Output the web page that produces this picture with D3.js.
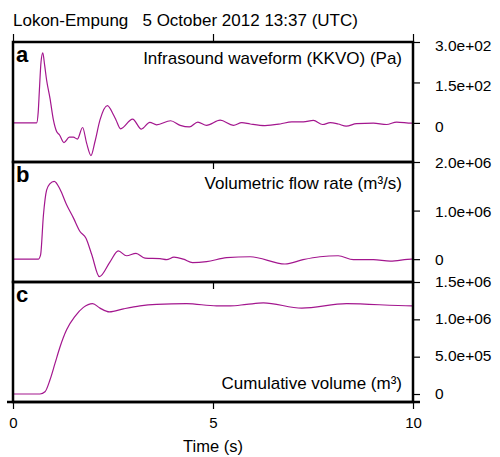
<!DOCTYPE html>
<html>
<head>
<meta charset="utf-8">
<script src="https://cdn.jsdelivr.net/npm/d3@7"></script>
<style>
  body { margin: 0; background: #fff; }
  svg text { font-family: "Liberation Sans", Arial, Helvetica, sans-serif; fill: #000; }
</style>
</head>
<body>
<div id="main"></div>
<script>
// time axis ticks (s)
const timeTicks = [0, 5, 10];

// a: infrasound waveform (Pa)
const tA = [0, 0.59, 0.63, 0.66, 0.70, 0.745, 0.79, 0.84, 0.925, 1.01, 1.09, 1.16, 1.275, 1.41, 1.51, 1.61, 1.74, 1.84, 1.95, 2.05, 2.175, 2.36, 2.51, 2.575, 2.69, 2.99, 3.21, 3.42, 3.59, 3.94, 4.18, 4.41, 4.62, 4.84, 5.18, 5.51, 5.72, 5.93, 6.3, 6.68, 6.97, 7.26, 7.51, 7.74, 7.93, 8.13, 8.33, 8.59, 9.01, 9.34, 9.59, 9.97, 10];
const vA = [0, 0, 40, 122, 225, 260, 215, 159, 91, 11, -32, -44, -73, -53, -53, -60, -17, -75, -121, -69, 11, 64, 30, 11, -22, 14, -23, 2, -7, 8, -9, -15, 3, -9, 10, -9, 1, -4, -10, -4, 4, 4, 9, -6, 1, -4, -12, -3, -1, -6, 3, -1, -1];
const ticksA = [0, 150, 300];

// b: volumetric flow rate (m3/s)
const tB = [0, 0.63, 0.69, 0.76, 0.84, 0.92, 1.03, 1.175, 1.34, 1.51, 1.675, 1.825, 1.97, 2.16, 2.43, 2.63, 2.84, 3.075, 3.3, 3.675, 3.84, 4.025, 4.26, 4.49, 4.84, 5.34, 5.93, 6.8, 7.25, 7.675, 8.13, 8.51, 9.01, 9.43, 9.97, 10];
const vB = [0, 0, 0.09e6, 0.9e6, 1.42e6, 1.55e6, 1.6e6, 1.44e6, 1.12e6, 0.85e6, 0.57e6, 0.43e6, 0.09e6, -0.36e6, -0.05e6, 0.17e6, 0.07e6, 0.12e6, 0.02e6, 0.01e6, -0.01e6, 0.04e6, 0, -0.07e6, -0.05e6, 0.03e6, 0.05e6, -0.1e6, -0.01e6, 0.05e6, 0.07e6, -0.01e6, -0.01e6, -0.04e6, 0, 0];
const ticksB = [0, 1.0e6, 2.0e6];

// c: cumulative volume (m3)
const tC = [0, 0.675, 0.8, 0.925, 1.05, 1.175, 1.34, 1.55, 1.76, 1.99, 2.175, 2.41, 2.76, 3.175, 3.59, 4.34, 5.09, 5.43, 5.84, 6.26, 7.22, 8.34, 9.97, 10];
const vC = [0, 0, 0.03e6, 0.19e6, 0.41e6, 0.63e6, 0.86e6, 1.04e6, 1.16e6, 1.21e6, 1.15e6, 1.10e6, 1.14e6, 1.18e6, 1.20e6, 1.21e6, 1.18e6, 1.18e6, 1.20e6, 1.22e6, 1.15e6, 1.21e6, 1.18e6, 1.18e6];
const ticksC = [0, 0.5e6, 1.0e6, 1.5e6];

const panels = [
  { letter: "a", title: "Infrasound waveform (KKVO) (Pa)", t: tA, v: vA, ticks: ticksA, domain: [-145, 300], top: 42, titleY: 22, labDy: 8.5 },
  { letter: "b", title: "Volumetric flow rate (m³/s)", t: tB, v: vB, ticks: ticksB, domain: [-0.47e6, 2.0e6], top: 162, titleY: 27, labDy: 5.5 },
  { letter: "c", title: "Cumulative volume (m³)", t: tC, v: vC, ticks: ticksC, domain: [-0.107e6, 1.5e6], top: 282, titleY: 107, labDy: 4 }
];

const left = 13, right = 413, ph = 120;
const lineColor = "#a3168e";

const svg = d3.select("#main")
  .append("svg")
  .attr("width", 500)
  .attr("height", 457);

const x = d3.scaleLinear().domain([0, 10]).range([left, right]);

const fmt = (v) => v === 0 ? "0" : d3.format(".1e")(v).replace(/e([+-])(\d)$/, "e$10$2");

svg.append("text")
  .attr("x", 13)
  .attr("y", 26)
  .style("font-size", "17px")
  .attr("xml:space", "preserve")
  .text("Lokon-Empung   5 October 2012 13:37 (UTC)");

panels.forEach((p, i) => {
  const y = d3.scaleLinear().domain(p.domain).range([p.top + ph, p.top]);
  const g = svg.append("g");

  g.append("clipPath").attr("id", "clip" + i)
    .append("rect").attr("x", left).attr("y", p.top).attr("width", right - left).attr("height", ph);

  const line = d3.line()
    .x((d) => x(d[0]))
    .y((d) => y(d[1]))
    .curve(d3.curveMonotoneX);

  g.append("path")
    .datum(p.t.map((t, j) => [t, p.v[j]]))
    .attr("clip-path", "url(#clip" + i + ")")
    .attr("fill", "none")
    .attr("stroke", lineColor)
    .attr("stroke-width", 1.2)
    .attr("d", line);

  // right axis
  const ra = g.append("g")
    .attr("transform", "translate(" + right + ",0)")
    .call(d3.axisRight(y).tickValues(p.ticks).tickSize(7).tickPadding(15).tickFormat(fmt));
  ra.select(".domain").remove();
  ra.selectAll("line").attr("stroke-width", 1.2);
  ra.selectAll("text")
    .attr("dy", null)
    .attr("y", p.labDy)
    .style("font-size", "15.5px");

  // bottom ticks
  const ba = g.append("g")
    .attr("transform", "translate(0," + (p.top + ph) + ")")
    .call(d3.axisBottom(x).tickValues(timeTicks).tickSize(7).tickPadding(8));
  ba.select(".domain").remove();
  ba.selectAll("line").attr("stroke-width", 1.2);
  if (i < 2) ba.selectAll("text").remove();
  else ba.selectAll("text").style("font-size", "15px").attr("dy", "0.75em");

  if (i === 0) {
    const ta = g.append("g")
      .attr("transform", "translate(0," + p.top + ")")
      .call(d3.axisTop(x).tickValues(timeTicks).tickSize(8));
    ta.select(".domain").remove();
    ta.selectAll("text").remove();
    ta.selectAll("line").attr("stroke-width", 1.2);
  }

  g.append("rect")
    .attr("x", left).attr("y", p.top)
    .attr("width", right - left).attr("height", ph)
    .attr("fill", "none")
    .attr("stroke", "#000")
    .attr("stroke-width", 2.5);

  g.append("text")
    .attr("x", 16)
    .attr("y", p.top + 20)
    .style("font-size", "22px")
    .style("font-weight", "bold")
    .text(p.letter);

  g.append("text")
    .attr("x", 402)
    .attr("y", p.top + p.titleY)
    .attr("text-anchor", "end")
    .style("font-size", "17px")
    .text(p.title);
});

// frame extension at the bottom edge
svg.append("line")
  .attr("x1", 7).attr("x2", 420)
  .attr("y1", 402).attr("y2", 402)
  .attr("stroke", "#000").attr("stroke-width", 2.5);

svg.append("text")
  .attr("x", x(5))
  .attr("y", 452)
  .attr("text-anchor", "middle")
  .style("font-size", "16.5px")
  .text("Time (s)");
</script>
</body>
</html>
